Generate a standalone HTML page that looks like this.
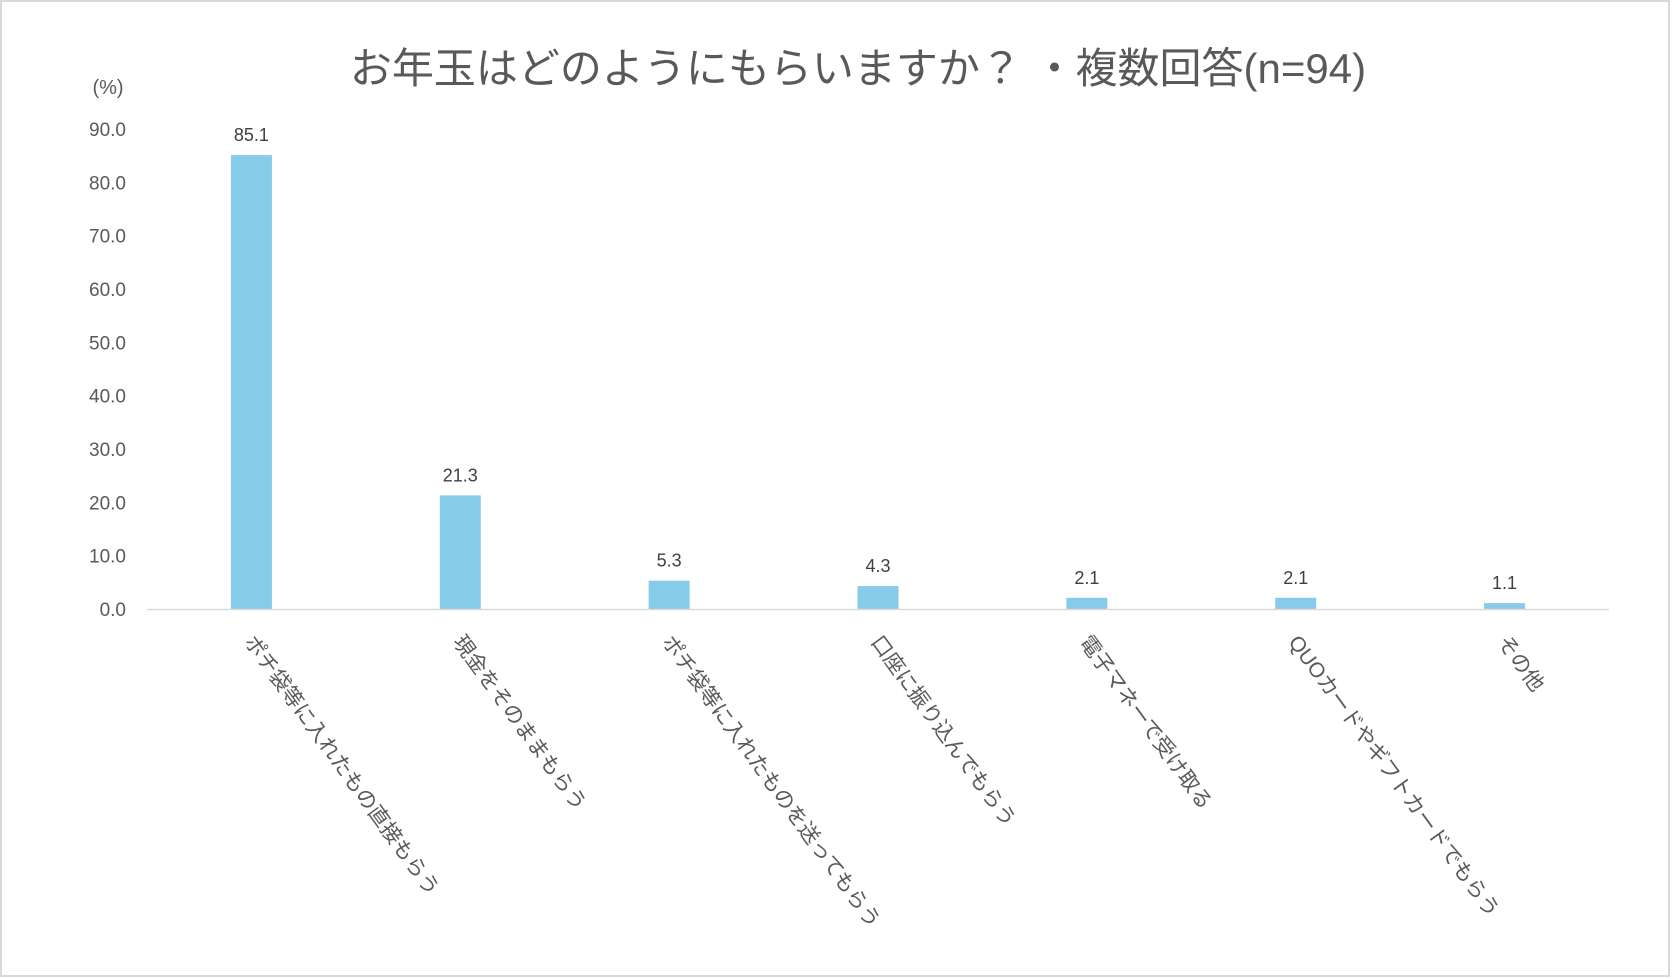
<!DOCTYPE html>
<html><head><meta charset="utf-8"><style>
html,body{margin:0;padding:0;background:#fff}
svg{display:block}
text{font-family:"Liberation Sans","Noto Sans CJK JP",sans-serif}
</style></head><body>
<svg id="chart" width="1672" height="979" viewBox="0 0 1672 979" xmlns="http://www.w3.org/2000/svg">
<rect x="1" y="1" width="1668" height="975" fill="#fff" stroke="#d9d9d9" stroke-width="2"/>
<text x="858" y="83" text-anchor="middle" font-size="42" fill="#595959">お年玉はどのようにもらいますか？ ・複数回答(n=94)</text>
<text x="108" y="94" text-anchor="middle" font-size="20" fill="#595959">(%)</text>
<g id="yaxis"></g>
<g id="bars"></g>
<g id="xaxis"></g>
</svg>
<script>
const categories = ["ポチ袋等に入れたもの直接もらう","現金をそのままもらう","ポチ袋等に入れたものを送ってもらう","口座に振り込んでもらう","電子マネーで受け取る","QUOカードやギフトカードでもらう","その他"];
const values = [85.1, 21.3, 5.3, 4.3, 2.1, 2.1, 1.1];
const valueLabels = ["85.1","21.3","5.3","4.3","2.1","2.1","1.1"];
const yTicks = [0,10,20,30,40,50,60,70,80,90];
const yTickLabels = ["0.0","10.0","20.0","30.0","40.0","50.0","60.0","70.0","80.0","90.0"];

const NS="http://www.w3.org/2000/svg";
const plotL=147, plotR=1609, base=609, top90=129;
const y = v => base - (base-top90)*v/90;
const band = (plotR-plotL)/categories.length;
const x = i => plotL + band*(i+0.5);
const barW = 41;
const yaxis=document.getElementById('yaxis'), bars=document.getElementById('bars'), xaxis=document.getElementById('xaxis');

yTicks.forEach((t,i)=>{
  const tx=document.createElementNS(NS,'text');
  
  
  tx.setAttribute('x',126);tx.setAttribute('y',y(t)+7);
  tx.setAttribute('text-anchor','end');tx.setAttribute('font-size','19');tx.setAttribute('fill','#595959');
  tx.textContent=yTickLabels[i];yaxis.appendChild(tx);
});
const ax=document.createElementNS(NS,'line');


ax.setAttribute('x1',plotL);ax.setAttribute('x2',plotR);ax.setAttribute('y1',base+0.5);ax.setAttribute('y2',base+0.5);
ax.setAttribute('stroke','#d9d9d9');ax.setAttribute('stroke-width','1.5');xaxis.appendChild(ax);

values.forEach((v,i)=>{
  const r=document.createElementNS(NS,'rect');
  
  
  r.setAttribute('x',x(i)-barW/2);r.setAttribute('y',y(v));r.setAttribute('width',barW);r.setAttribute('height',base-y(v));
  r.setAttribute('fill','#87cbea');bars.appendChild(r);
  const l=document.createElementNS(NS,'text');
  
  
  l.setAttribute('x',x(i));l.setAttribute('y',y(v)-14);l.setAttribute('text-anchor','middle');
  l.setAttribute('font-size','18');l.setAttribute('fill','#404040');l.textContent=valueLabels[i];bars.appendChild(l);
  const c=document.createElementNS(NS,'text');
  
  
  const cx=x(i)-8, cy=642;
  c.setAttribute('x',cx);c.setAttribute('y',cy);c.setAttribute('transform','rotate(54 '+cx+' '+cy+')');
  c.setAttribute('font-size','21');c.setAttribute('fill','#595959');c.textContent=categories[i];xaxis.appendChild(c);
});
</script>
</body></html>
